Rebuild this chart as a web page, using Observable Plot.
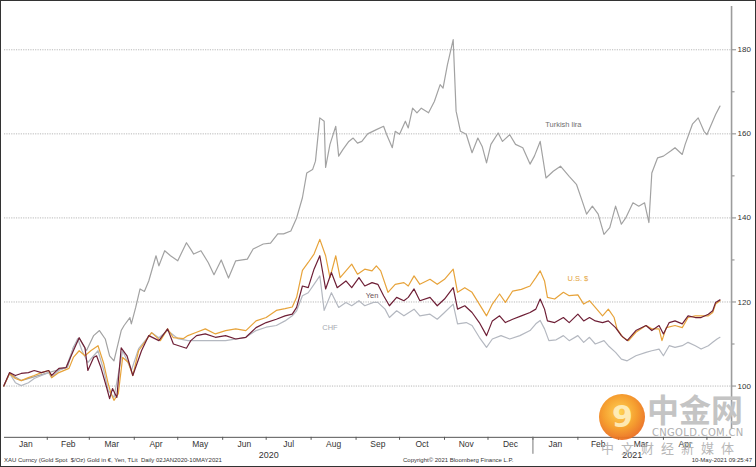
<!DOCTYPE html>
<html>
<head>
<meta charset="utf-8">
<script src="https://cdn.jsdelivr.net/npm/d3@7"></script>
<script src="https://cdn.jsdelivr.net/npm/@observablehq/plot@0.6"></script>
<style>
  html, body { margin: 0; padding: 0; background: #fff; }
  #frame { position: relative; width: 756px; height: 467px; box-sizing: border-box; border: 1px solid #333; overflow: hidden; background: #fff; }
  #chart { position: absolute; left: -1px; top: -1px; }
  .foot { position: absolute; top: 456px; font-family: "Liberation Sans", Arial, sans-serif; font-size: 6px; color: #333; white-space: pre; }
  .wm { position: absolute; font-family: "Noto Sans CJK SC", sans-serif; white-space: pre; }
</style>
</head>
<body>
<div id="frame">
  <div id="chart"></div>
  <div class="wm" style="left:598px;top:393px;width:46px;height:46px;border-radius:50%;background:radial-gradient(circle at 45% 40%, #ffd04a 0%, #f59a25 45%, #e0461c 100%);opacity:0.95"></div>
  <div class="wm" style="left:611px;top:398px;font-size:30px;font-weight:bold;color:#fff3c8;font-family:'DejaVu Sans';opacity:0.85">9</div>
  <div class="wm" style="left:646px;top:384px;font-size:32px;font-weight:bold;color:#c4c4c4">中金网</div>
  <div class="wm" style="left:651px;top:426px;font-size:10px;color:#b0b0b0;font-family:'DejaVu Sans';letter-spacing:0.3px">CNGOLD.COM.CN</div>
  <div class="wm" style="left:600px;top:437px;font-size:13px;color:#b8b8b8;letter-spacing:7px">中文财经新媒体</div>
  <div class="foot" style="left:3px">XAU Curncy (Gold Spot  $/Oz) Gold in €, Yen, TLit  Daily 02JAN2020-10MAY2021</div>
  <div class="foot" style="left:402px">Copyright© 2021 Bloomberg Finance L.P.</div>
  <div class="foot" style="right:3px">10-May-2021 09:25:47</div>
</div>
<script>
// ---- data (gold price indexed, 02 Jan 2020 = 100) ----
const turkishLira = [
["2020-01-02",100],["2020-01-06",103],["2020-01-14",101.3],["2020-01-21",102],["2020-01-31",103],["2020-02-07",103.7],["2020-02-15",104.5],["2020-02-19",109.2],["2020-02-23",111.4],["2020-02-28",108.4],["2020-03-04",112],["2020-03-08",113.2],["2020-03-12",111.2],["2020-03-15",107.2],["2020-03-18",106],["2020-03-23",113.2],["2020-03-25",114.4],["2020-03-29",116.3],["2020-03-30",114.8],["2020-04-02",118.7],["2020-04-05",123.1],["2020-04-08",122.5],["2020-04-11",125],["2020-04-16",131],["2020-04-18",128.6],["2020-04-22",132.2],["2020-04-26",131],["2020-05-01",129.8],["2020-05-07",134.1],["2020-05-10",132.5],["2020-05-12",131.4],["2020-05-17",132.2],["2020-05-22",129.4],["2020-05-26",126.5],["2020-05-31",130],["2020-06-05",125.7],["2020-06-10",129.8],["2020-06-18",130.2],["2020-06-22",132.6],["2020-06-29",133.8],["2020-07-04",134],["2020-07-09",136.2],["2020-07-13",136.2],["2020-07-18",136.9],["2020-07-22",140],["2020-07-26",144.8],["2020-07-29",150.7],["2020-08-02",151.5],["2020-08-04",153.5],["2020-08-07",163.8],["2020-08-10",163],["2020-08-11",152],["2020-08-14",157.5],["2020-08-18",161.8],["2020-08-20",154.7],["2020-08-23",156.3],["2020-08-27",158.2],["2020-08-30",159],["2020-09-02",157.8],["2020-09-05",158.2],["2020-09-09",160],["2020-09-15",161],["2020-09-20",161.8],["2020-09-22",159.9],["2020-09-26",156.7],["2020-09-28",160.6],["2020-10-01",159.9],["2020-10-05",163],["2020-10-07",161.4],["2020-10-10",166.1],["2020-10-13",165],["2020-10-16",166.1],["2020-10-21",165],["2020-10-25",167.7],["2020-10-29",171.7],["2020-10-31",170.9],["2020-11-03",176.4],["2020-11-07",182.4],["2020-11-09",165.4],["2020-11-12",160.6],["2020-11-16",159.9],["2020-11-20",155.5],["2020-11-24",159],["2020-11-27",157],["2020-11-30",153.1],["2020-12-03",157.5],["2020-12-08",160.2],["2020-12-11",158.2],["2020-12-16",159.8],["2020-12-20",157.5],["2020-12-25",156.7],["2020-12-30",152.8],["2021-01-02",154.7],["2021-01-06",158.2],["2021-01-10",149.5],["2021-01-15",151.1],["2021-01-20",152.3],["2021-01-26",149.9],["2021-01-31",148],["2021-02-04",144],["2021-02-07",140.9],["2021-02-11",142.8],["2021-02-15",140.9],["2021-02-19",136.1],["2021-02-23",137.7],["2021-02-27",142.8],["2021-03-03",138.5],["2021-03-06",140],["2021-03-11",143.6],["2021-03-15",142.8],["2021-03-19",143.6],["2021-03-22",138.9],["2021-03-24",150.7],["2021-03-28",154.3],["2021-04-01",154.7],["2021-04-06",155.9],["2021-04-09",156.7],["2021-04-14",155.1],["2021-04-16",157.5],["2021-04-21",162.3],["2021-04-25",163.8],["2021-04-29",160.6],["2021-05-01",159.8],["2021-05-05",163],["2021-05-07",164.6],["2021-05-10",166.6]
];
const usDollar = [
["2020-01-02",100],["2020-01-06",103],["2020-01-10",101.8],["2020-01-14",101.3],["2020-01-19",102],["2020-01-23",102.5],["2020-01-28",103.2],["2020-02-02",103.7],["2020-02-04",102],["2020-02-09",103.2],["2020-02-16",104.2],["2020-02-19",106.8],["2020-02-23",108.4],["2020-02-27",107.2],["2020-03-02",108.4],["2020-03-07",109.6],["2020-03-11",105.3],["2020-03-14",100.6],["2020-03-16",98.2],["2020-03-18",96.6],["2020-03-21",98.2],["2020-03-24",106.8],["2020-03-28",105.6],["2020-03-31",102.5],["2020-04-04",108.4],["2020-04-13",112.7],["2020-04-19",110.8],["2020-04-24",113.6],["2020-04-28",111.5],["2020-05-05",111.3],["2020-05-08",112],["2020-05-14",112.8],["2020-05-20",113.6],["2020-05-27",112.4],["2020-06-03",113.2],["2020-06-10",113.6],["2020-06-17",113.2],["2020-06-24",115.5],["2020-07-01",116.3],["2020-07-08",118],["2020-07-14",118.4],["2020-07-19",118.8],["2020-07-22",121.1],["2020-07-26",127.5],["2020-07-30",129.4],["2020-08-03",131.4],["2020-08-07",134.9],["2020-08-11",131],["2020-08-14",125.8],["2020-08-18",131],["2020-08-21",125.8],["2020-08-25",127.4],["2020-08-29",129],["2020-09-02",126.6],["2020-09-07",127.8],["2020-09-12",127.4],["2020-09-15",128.6],["2020-09-18",127.4],["2020-09-23",122.3],["2020-09-28",124.2],["2020-10-04",124.6],["2020-10-07",123.8],["2020-10-11",126.2],["2020-10-15",124.2],["2020-10-22",125.4],["2020-10-27",124.2],["2020-11-01",125.4],["2020-11-07",127.8],["2020-11-10",122.3],["2020-11-15",123.4],["2020-11-20",122.3],["2020-11-25",119.5],["2020-11-30",116.7],["2020-12-04",119.5],["2020-12-09",121.9],["2020-12-13",119.9],["2020-12-18",122.6],["2020-12-24",123],["2020-12-30",123.8],["2021-01-03",125.8],["2021-01-06",127.4],["2021-01-09",125],["2021-01-11",121.1],["2021-01-16",120.7],["2021-01-22",122.3],["2021-01-26",121.5],["2021-02-01",121.7],["2021-02-05",119.5],["2021-02-09",120.3],["2021-02-13",118.7],["2021-02-18",116.7],["2021-02-22",118.3],["2021-02-26",116.3],["2021-02-28",113.6],["2021-03-04",111.6],["2021-03-08",110.8],["2021-03-13",112.8],["2021-03-20",114.4],["2021-03-24",113.6],["2021-03-29",113.6],["2021-03-31",110.8],["2021-04-03",113.9],["2021-04-09",114.4],["2021-04-14",113.9],["2021-04-18",116.3],["2021-04-23",116.7],["2021-04-27",116.7],["2021-05-02",116.7],["2021-05-05",117.5],["2021-05-07",119.5],["2021-05-10",120.3]
];
const yen = [
["2020-01-02",100],["2020-01-06",103.2],["2020-01-10",102.5],["2020-01-14",103],["2020-01-19",103.2],["2020-01-23",103.7],["2020-01-28",103.2],["2020-02-02",103.7],["2020-02-04",102.5],["2020-02-09",104.2],["2020-02-14",104.4],["2020-02-19",108.4],["2020-02-23",111.5],["2020-02-27",109.1],["2020-02-29",103.7],["2020-03-04",106.8],["2020-03-06",107.2],["2020-03-09",104.4],["2020-03-13",99.6],["2020-03-15",97],["2020-03-17",99.4],["2020-03-20",97.3],["2020-03-23",109.1],["2020-03-27",107.2],["2020-03-31",102.5],["2020-04-06",108.4],["2020-04-11",112],["2020-04-18",110.8],["2020-04-24",113.6],["2020-04-28",110],["2020-05-07",109],["2020-05-10",110.8],["2020-05-14",112],["2020-05-20",112.4],["2020-05-27",111.6],["2020-06-03",112],["2020-06-10",111.2],["2020-06-17",111.6],["2020-06-24",113.9],["2020-07-01",115.1],["2020-07-08",115.9],["2020-07-14",116.7],["2020-07-19",117.1],["2020-07-22",118.7],["2020-07-26",123.8],["2020-07-30",123.4],["2020-08-03",127.8],["2020-08-07",131],["2020-08-11",123.1],["2020-08-15",127],["2020-08-19",123.4],["2020-08-25",125],["2020-08-29",123.4],["2020-09-03",125.8],["2020-09-07",123.8],["2020-09-12",124.6],["2020-09-16",124.2],["2020-09-20",121.5],["2020-09-24",119.1],["2020-09-29",121.1],["2020-10-04",120.3],["2020-10-07",121.1],["2020-10-11",123.1],["2020-10-15",120.3],["2020-10-22",121.1],["2020-10-27",119.1],["2020-11-01",120.7],["2020-11-07",123.4],["2020-11-10",118.3],["2020-11-15",119.1],["2020-11-20",117.5],["2020-11-25",115.1],["2020-11-30",112],["2020-12-04",115.5],["2020-12-09",116.7],["2020-12-13",115.1],["2020-12-18",115.9],["2020-12-24",116.7],["2020-12-30",117.5],["2021-01-03",118.3],["2021-01-06",120.7],["2021-01-09",118.3],["2021-01-11",115.5],["2021-01-16",115.1],["2021-01-22",116.3],["2021-01-26",115.1],["2021-02-01",117.1],["2021-02-05",115.5],["2021-02-09",116.3],["2021-02-13",115.5],["2021-02-18",115.1],["2021-02-22",115.5],["2021-02-27",113.9],["2021-03-03",112],["2021-03-07",110.8],["2021-03-13",113.2],["2021-03-20",114.4],["2021-03-24",113.2],["2021-03-29",114.4],["2021-04-01",112.4],["2021-04-05",115.1],["2021-04-09",115.5],["2021-04-14",114.8],["2021-04-18",116.7],["2021-04-23",116.3],["2021-04-27",116.3],["2021-05-02",117.1],["2021-05-05",117.9],["2021-05-07",119.9],["2021-05-10",120.5]
];
const swissFranc = [
["2020-01-02",100],["2020-01-06",103],["2020-01-10",100.8],["2020-01-14",100.1],["2020-01-19",100.8],["2020-01-23",101.8],["2020-01-28",102.5],["2020-02-02",103.2],["2020-02-04",102],["2020-02-09",103.7],["2020-02-14",104.4],["2020-02-19",109.1],["2020-02-22",111.3],["2020-02-25",108.4],["2020-02-29",105.6],["2020-03-07",108.4],["2020-03-11",103.7],["2020-03-14",99],["2020-03-18",97.3],["2020-03-24",108.4],["2020-03-30",103.7],["2020-04-04",108.9],["2020-04-13",112.7],["2020-04-18",111.5],["2020-04-24",113.2],["2020-05-01",111.3],["2020-05-08",110.8],["2020-05-20",110.8],["2020-06-03",110.8],["2020-06-17",111.6],["2020-06-24",113.2],["2020-07-01",114],["2020-07-08",114.4],["2020-07-14",115.5],["2020-07-19",116.7],["2020-07-22",117.9],["2020-07-26",121.5],["2020-07-30",122.2],["2020-08-03",124.2],["2020-08-07",126.2],["2020-08-10",118],["2020-08-15",122.2],["2020-08-20",118.7],["2020-08-25",119.9],["2020-08-29",119.1],["2020-09-03",120.3],["2020-09-07",119.1],["2020-09-13",119.9],["2020-09-16",119.9],["2020-09-21",118.3],["2020-09-24",116.3],["2020-09-29",117.9],["2020-10-04",116.7],["2020-10-11",118.3],["2020-10-15",116.7],["2020-10-22",117.1],["2020-10-27",115.9],["2020-11-01",117.5],["2020-11-07",119.5],["2020-11-10",114.8],["2020-11-16",115.1],["2020-11-20",114.4],["2020-11-25",111.6],["2020-11-30",109.2],["2020-12-04",111.2],["2020-12-10",112],["2020-12-16",111.2],["2020-12-23",112],["2020-12-30",113.2],["2021-01-03",114.8],["2021-01-06",115.6],["2021-01-09",113.6],["2021-01-12",110.8],["2021-01-17",111],["2021-01-22",112],["2021-01-26",110.8],["2021-02-01",112],["2021-02-05",110.4],["2021-02-09",111.6],["2021-02-13",110],["2021-02-19",110.8],["2021-02-22",109.6],["2021-02-27",108],["2021-03-03",106.4],["2021-03-07",106],["2021-03-13",107.2],["2021-03-20",108],["2021-03-24",108.4],["2021-03-29",108.8],["2021-04-01",107.2],["2021-04-05",109.6],["2021-04-09",109.2],["2021-04-14",109.6],["2021-04-18",110.4],["2021-04-23",109.6],["2021-04-27",108.8],["2021-05-02",109.6],["2021-05-05",110.4],["2021-05-08",111.2],["2021-05-10",111.6]
];
const seriesNames = ["Turkish lira", "U.S. $", "Yen", "CHF"];
const monthLabels = ["Jan","Feb","Mar","Apr","May","Jun","Jul","Aug","Sep","Oct","Nov","Dec","Jan","Feb","Mar","Apr"];
const yearLabels = ["2020", "2021"];
const yTicks = [100, 120, 140, 160, 180];
const yMinorTicks = [110, 130, 150, 170];
const seriesLabels = [
  {name: "Turkish lira", date: "2021-01-22", value: 162.3},
  {name: "U.S. $", date: "2021-02-01", value: 125.6},
  {name: "Yen", date: "2020-09-12", value: 121.6},
  {name: "CHF", date: "2020-08-14", value: 113.9}
];

// ---- build ----
const colors = {"Turkish lira": "#a2a2a2", "U.S. $": "#e7a33a", "Yen": "#6e1f36", "CHF": "#b4b8c0"};
const labelColors = {"Turkish lira": "#6f6f6f", "U.S. $": "#e3a33c", "Yen": "#6a5057", "CHF": "#a6aab2"};
const toRows = (arr, name) => arr.map(([d, v]) => ({date: new Date(d), value: v, series: name}));
const rows = [
  ...toRows(turkishLira, seriesNames[0]),
  ...toRows(swissFranc, seriesNames[3]),
  ...toRows(usDollar, seriesNames[1]),
  ...toRows(yen, seriesNames[2])
];
const xDomain = [new Date(Date.UTC(2020, 0, 2, 12)), new Date(Date.UTC(2021, 4, 18))];
const yDomain = [87.8, 190.3];
const monthStarts = d3.utcMonth.range(new Date(Date.UTC(2020, 1, 1)), new Date(Date.UTC(2021, 4, 2)));
const labelMonths = d3.utcMonth.range(new Date(Date.UTC(2020, 0, 1)), new Date(Date.UTC(2021, 4, 1)));
const monthMids = labelMonths.map((m, i) => {
  const start = i === 0 ? xDomain[0] : m;
  const end = d3.utcMonth.offset(m, 1);
  return new Date((+start + +end) / 2);
});
const monthText = new Map(monthMids.map((d, i) => [+d, monthLabels[i]]));
const yearMids = [
  new Date((+xDomain[0] + Date.UTC(2021, 0, 1)) / 2),
  new Date((Date.UTC(2021, 0, 1) + +xDomain[1]) / 2)
];
const yearText = new Map(yearMids.map((d, i) => [+d, yearLabels[i]]));

const chart = Plot.plot({
  width: 757, height: 457,
  marginTop: 6, marginBottom: 19, marginLeft: 4, marginRight: 24,
  style: {fontFamily: "'Liberation Sans', Arial, sans-serif", fontSize: "8.5px", background: "transparent", color: "#333", overflow: "visible"},
  x: {type: "utc", domain: xDomain, label: null},
  y: {domain: yDomain, label: null},
  marks: [
    Plot.gridY(yTicks, {stroke: "#b8b8b8", strokeOpacity: 1, strokeDasharray: "1.2,1.2"}),
    Plot.ruleX([xDomain[1]], {stroke: "#9c9c9c", strokeWidth: 1.6, y1: yDomain[0], y2: yDomain[1], insetTop: -8}),
    Plot.ruleY([yDomain[0]], {stroke: "#555", strokeWidth: 1}),
    Plot.axisX(monthStarts, {tickSize: 3, tickFormat: () => "", stroke: "#555", label: null}),
    Plot.axisX([new Date(Date.UTC(2021, 0, 1))], {tickSize: 17, tickFormat: () => "", stroke: "#777", label: null}),
    Plot.axisX(monthMids, {tickSize: 0, tickPadding: 4, tickFormat: d => monthText.get(+d), fill: "#333", label: null}),
    Plot.axisX(yearMids, {tickSize: 0, tickPadding: 14, tickFormat: d => yearText.get(+d), fill: "#333", fontSize: 9, label: null}),
    Plot.axisY(yTicks, {anchor: "right", tickSize: 4, tickPadding: 2, stroke: "#888", fill: "#333", fontSize: 8, label: null}),
    Plot.axisY(yMinorTicks, {anchor: "right", tickSize: 2.5, tickFormat: () => "", stroke: "#888", label: null}),
    Plot.lineY(rows, {x: "date", y: "value", z: "series", stroke: d => colors[d.series], strokeWidth: 1.2, curve: "linear"}),
    Plot.text(seriesLabels, {x: d => new Date(d.date), y: "value", text: "name", fill: d => labelColors[d.name], fontSize: 7.5})
  ]
});
document.getElementById("chart").appendChild(chart);
</script>
</body>
</html>
